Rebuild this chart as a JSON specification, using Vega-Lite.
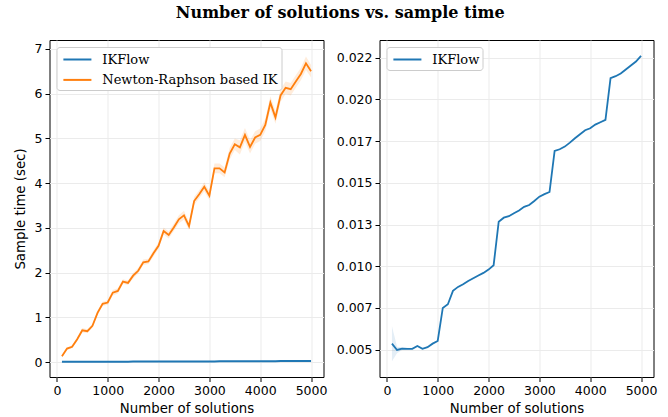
{
  "$schema": "https://vega.github.io/schema/vega-lite/v6.json",
  "padding": {"left": 12.5, "top": 4, "right": 0, "bottom": 0},
  "background": "white",
  "title": {"text": "Number of solutions vs. sample time", "font": "DejaVu Serif", "fontWeight": "bold", "fontSize": 16, "color": "black", "anchor": "middle", "frame": "bounds", "offset": 19, "dx": 5},
  "datasets": {
    "nr": [
      {"n": 100, "series": "Newton-Raphson based IK", "t": 0.13, "lo": 0.10, "hi": 0.16},
      {"n": 200, "series": "Newton-Raphson based IK", "t": 0.30, "lo": 0.27, "hi": 0.33},
      {"n": 300, "series": "Newton-Raphson based IK", "t": 0.34, "lo": 0.31, "hi": 0.37},
      {"n": 400, "series": "Newton-Raphson based IK", "t": 0.51, "lo": 0.47, "hi": 0.55},
      {"n": 500, "series": "Newton-Raphson based IK", "t": 0.71, "lo": 0.66, "hi": 0.76},
      {"n": 600, "series": "Newton-Raphson based IK", "t": 0.69, "lo": 0.65, "hi": 0.73},
      {"n": 700, "series": "Newton-Raphson based IK", "t": 0.81, "lo": 0.77, "hi": 0.85},
      {"n": 800, "series": "Newton-Raphson based IK", "t": 1.10, "lo": 1.05, "hi": 1.15},
      {"n": 900, "series": "Newton-Raphson based IK", "t": 1.30, "lo": 1.25, "hi": 1.35},
      {"n": 1000, "series": "Newton-Raphson based IK", "t": 1.33, "lo": 1.28, "hi": 1.38},
      {"n": 1100, "series": "Newton-Raphson based IK", "t": 1.55, "lo": 1.49, "hi": 1.61},
      {"n": 1200, "series": "Newton-Raphson based IK", "t": 1.59, "lo": 1.53, "hi": 1.65},
      {"n": 1300, "series": "Newton-Raphson based IK", "t": 1.80, "lo": 1.75, "hi": 1.85},
      {"n": 1400, "series": "Newton-Raphson based IK", "t": 1.77, "lo": 1.72, "hi": 1.82},
      {"n": 1500, "series": "Newton-Raphson based IK", "t": 1.93, "lo": 1.87, "hi": 1.99},
      {"n": 1600, "series": "Newton-Raphson based IK", "t": 2.04, "lo": 1.98, "hi": 2.10},
      {"n": 1700, "series": "Newton-Raphson based IK", "t": 2.23, "lo": 2.17, "hi": 2.29},
      {"n": 1800, "series": "Newton-Raphson based IK", "t": 2.25, "lo": 2.19, "hi": 2.31},
      {"n": 1900, "series": "Newton-Raphson based IK", "t": 2.43, "lo": 2.36, "hi": 2.50},
      {"n": 2000, "series": "Newton-Raphson based IK", "t": 2.60, "lo": 2.53, "hi": 2.67},
      {"n": 2100, "series": "Newton-Raphson based IK", "t": 2.93, "lo": 2.85, "hi": 3.01},
      {"n": 2200, "series": "Newton-Raphson based IK", "t": 2.84, "lo": 2.76, "hi": 2.92},
      {"n": 2300, "series": "Newton-Raphson based IK", "t": 3.01, "lo": 2.93, "hi": 3.09},
      {"n": 2400, "series": "Newton-Raphson based IK", "t": 3.19, "lo": 3.10, "hi": 3.28},
      {"n": 2500, "series": "Newton-Raphson based IK", "t": 3.28, "lo": 3.18, "hi": 3.38},
      {"n": 2600, "series": "Newton-Raphson based IK", "t": 3.04, "lo": 2.95, "hi": 3.13},
      {"n": 2700, "series": "Newton-Raphson based IK", "t": 3.60, "lo": 3.51, "hi": 3.69},
      {"n": 2800, "series": "Newton-Raphson based IK", "t": 3.75, "lo": 3.66, "hi": 3.84},
      {"n": 2900, "series": "Newton-Raphson based IK", "t": 3.92, "lo": 3.82, "hi": 4.02},
      {"n": 3000, "series": "Newton-Raphson based IK", "t": 3.72, "lo": 3.62, "hi": 3.82},
      {"n": 3100, "series": "Newton-Raphson based IK", "t": 4.33, "lo": 4.22, "hi": 4.44},
      {"n": 3200, "series": "Newton-Raphson based IK", "t": 4.33, "lo": 4.22, "hi": 4.44},
      {"n": 3300, "series": "Newton-Raphson based IK", "t": 4.24, "lo": 4.13, "hi": 4.35},
      {"n": 3400, "series": "Newton-Raphson based IK", "t": 4.66, "lo": 4.53, "hi": 4.79},
      {"n": 3500, "series": "Newton-Raphson based IK", "t": 4.87, "lo": 4.74, "hi": 5.00},
      {"n": 3600, "series": "Newton-Raphson based IK", "t": 4.80, "lo": 4.64, "hi": 4.96},
      {"n": 3700, "series": "Newton-Raphson based IK", "t": 5.08, "lo": 4.93, "hi": 5.23},
      {"n": 3800, "series": "Newton-Raphson based IK", "t": 4.81, "lo": 4.66, "hi": 4.96},
      {"n": 3900, "series": "Newton-Raphson based IK", "t": 5.02, "lo": 4.88, "hi": 5.16},
      {"n": 4000, "series": "Newton-Raphson based IK", "t": 5.08, "lo": 4.94, "hi": 5.22},
      {"n": 4100, "series": "Newton-Raphson based IK", "t": 5.30, "lo": 5.16, "hi": 5.44},
      {"n": 4200, "series": "Newton-Raphson based IK", "t": 5.80, "lo": 5.66, "hi": 5.94},
      {"n": 4300, "series": "Newton-Raphson based IK", "t": 5.47, "lo": 5.33, "hi": 5.61},
      {"n": 4400, "series": "Newton-Raphson based IK", "t": 5.96, "lo": 5.82, "hi": 6.10},
      {"n": 4500, "series": "Newton-Raphson based IK", "t": 6.13, "lo": 5.99, "hi": 6.27},
      {"n": 4600, "series": "Newton-Raphson based IK", "t": 6.10, "lo": 5.96, "hi": 6.24},
      {"n": 4700, "series": "Newton-Raphson based IK", "t": 6.27, "lo": 6.13, "hi": 6.41},
      {"n": 4800, "series": "Newton-Raphson based IK", "t": 6.44, "lo": 6.30, "hi": 6.58},
      {"n": 4900, "series": "Newton-Raphson based IK", "t": 6.68, "lo": 6.53, "hi": 6.83},
      {"n": 5000, "series": "Newton-Raphson based IK", "t": 6.50, "lo": 6.36, "hi": 6.64}
    ],
    "ik": [
      {"n": 100, "series": "IKFlow", "t": 0.00536, "lo": 0.0043, "hi": 0.0064},
      {"n": 200, "series": "IKFlow", "t": 0.00498, "lo": 0.00478, "hi": 0.00518},
      {"n": 300, "series": "IKFlow", "t": 0.00506, "lo": 0.00498, "hi": 0.00514},
      {"n": 400, "series": "IKFlow", "t": 0.00505, "lo": 0.00499, "hi": 0.00511},
      {"n": 500, "series": "IKFlow", "t": 0.00505, "lo": 0.00500, "hi": 0.00510},
      {"n": 600, "series": "IKFlow", "t": 0.00522, "lo": 0.00517, "hi": 0.00527},
      {"n": 700, "series": "IKFlow", "t": 0.00505, "lo": 0.00500, "hi": 0.00510},
      {"n": 800, "series": "IKFlow", "t": 0.00515, "lo": 0.00511, "hi": 0.00519},
      {"n": 900, "series": "IKFlow", "t": 0.00536, "lo": 0.00532, "hi": 0.00540},
      {"n": 1000, "series": "IKFlow", "t": 0.00552, "lo": 0.00548, "hi": 0.00556},
      {"n": 1100, "series": "IKFlow", "t": 0.0075, "lo": 0.00746, "hi": 0.00754},
      {"n": 1200, "series": "IKFlow", "t": 0.00772, "lo": 0.00768, "hi": 0.00776},
      {"n": 1300, "series": "IKFlow", "t": 0.00852, "lo": 0.00848, "hi": 0.00856},
      {"n": 1400, "series": "IKFlow", "t": 0.00876, "lo": 0.00872, "hi": 0.00880},
      {"n": 1500, "series": "IKFlow", "t": 0.00892, "lo": 0.00888, "hi": 0.00896},
      {"n": 1600, "series": "IKFlow", "t": 0.00912, "lo": 0.00908, "hi": 0.00916},
      {"n": 1700, "series": "IKFlow", "t": 0.00928, "lo": 0.00924, "hi": 0.00932},
      {"n": 1800, "series": "IKFlow", "t": 0.00944, "lo": 0.00940, "hi": 0.00948},
      {"n": 1900, "series": "IKFlow", "t": 0.0096, "lo": 0.00956, "hi": 0.00964},
      {"n": 2000, "series": "IKFlow", "t": 0.0098, "lo": 0.00976, "hi": 0.00984},
      {"n": 2100, "series": "IKFlow", "t": 0.01006, "lo": 0.01002, "hi": 0.01010},
      {"n": 2200, "series": "IKFlow", "t": 0.01267, "lo": 0.01263, "hi": 0.01271},
      {"n": 2300, "series": "IKFlow", "t": 0.01291, "lo": 0.01287, "hi": 0.01295},
      {"n": 2400, "series": "IKFlow", "t": 0.0130, "lo": 0.01296, "hi": 0.01304},
      {"n": 2500, "series": "IKFlow", "t": 0.01318, "lo": 0.01314, "hi": 0.01322},
      {"n": 2600, "series": "IKFlow", "t": 0.01334, "lo": 0.01330, "hi": 0.01338},
      {"n": 2700, "series": "IKFlow", "t": 0.01356, "lo": 0.01352, "hi": 0.01360},
      {"n": 2800, "series": "IKFlow", "t": 0.01367, "lo": 0.01363, "hi": 0.01371},
      {"n": 2900, "series": "IKFlow", "t": 0.01391, "lo": 0.01387, "hi": 0.01395},
      {"n": 3000, "series": "IKFlow", "t": 0.01417, "lo": 0.01413, "hi": 0.01421},
      {"n": 3100, "series": "IKFlow", "t": 0.01432, "lo": 0.01428, "hi": 0.01436},
      {"n": 3200, "series": "IKFlow", "t": 0.01445, "lo": 0.01441, "hi": 0.01449},
      {"n": 3300, "series": "IKFlow", "t": 0.01691, "lo": 0.01687, "hi": 0.01695},
      {"n": 3400, "series": "IKFlow", "t": 0.01701, "lo": 0.01697, "hi": 0.01705},
      {"n": 3500, "series": "IKFlow", "t": 0.01717, "lo": 0.01713, "hi": 0.01721},
      {"n": 3600, "series": "IKFlow", "t": 0.01741, "lo": 0.01737, "hi": 0.01745},
      {"n": 3700, "series": "IKFlow", "t": 0.01767, "lo": 0.01763, "hi": 0.01771},
      {"n": 3800, "series": "IKFlow", "t": 0.01791, "lo": 0.01787, "hi": 0.01795},
      {"n": 3900, "series": "IKFlow", "t": 0.01815, "lo": 0.01811, "hi": 0.01819},
      {"n": 4000, "series": "IKFlow", "t": 0.01827, "lo": 0.01823, "hi": 0.01831},
      {"n": 4100, "series": "IKFlow", "t": 0.01849, "lo": 0.01845, "hi": 0.01853},
      {"n": 4200, "series": "IKFlow", "t": 0.01863, "lo": 0.01859, "hi": 0.01867},
      {"n": 4300, "series": "IKFlow", "t": 0.01877, "lo": 0.01873, "hi": 0.01881},
      {"n": 4400, "series": "IKFlow", "t": 0.02127, "lo": 0.02123, "hi": 0.02131},
      {"n": 4500, "series": "IKFlow", "t": 0.02139, "lo": 0.02135, "hi": 0.02143},
      {"n": 4600, "series": "IKFlow", "t": 0.02155, "lo": 0.02151, "hi": 0.02159},
      {"n": 4700, "series": "IKFlow", "t": 0.02179, "lo": 0.02175, "hi": 0.02183},
      {"n": 4800, "series": "IKFlow", "t": 0.02203, "lo": 0.02199, "hi": 0.02207},
      {"n": 4900, "series": "IKFlow", "t": 0.02227, "lo": 0.02223, "hi": 0.02231},
      {"n": 5000, "series": "IKFlow", "t": 0.02261, "lo": 0.02257, "hi": 0.02265}
    ]
  },
  "config": {
    "view": {"stroke": "black", "strokeWidth": 1},
    "axis": {
      "domain": false, "tickColor": "black", "tickSize": 4.5, "tickWidth": 1,
      "labelFont": "DejaVu Sans", "labelFontSize": 12.5, "labelColor": "black",
      "titleFont": "DejaVu Sans", "titleFontSize": 13.3, "titleFontWeight": "normal", "titleColor": "black",
      "gridColor": "#ebebeb", "gridWidth": 1, "labelPadding": 3
    },
    "axisY": {"titlePadding": 6.5},
    "legend": {
      "orient": "top-left", "offset": 6.5, "symbolType": "M-1.687,0H1.687", "symbolSize": 276, "symbolStrokeWidth": 2, "symbolOffset": 8.4,
      "labelFont": "DejaVu Serif", "labelFontSize": 13, "labelColor": "black", "labelOffset": 15.4, "labelLimit": 400,
      "strokeColor": "#cccccc", "fillColor": "white", "cornerRadius": 3, "padding": 3, "rowPadding": 3.4, "title": null
    }
  },
  "spacing": 8,
  "resolve": {"scale": {"color": "independent", "y": "independent"}, "legend": {"color": "independent"}},
  "hconcat": [
    {
      "width": 274, "height": 337,
      "layer": [
        {
          "data": {"name": "nr"},
          "mark": {"type": "area", "opacity": 0.15, "color": "#ff7f0e"},
          "encoding": {
            "x": {"field": "n", "type": "quantitative"},
            "y": {"field": "lo", "type": "quantitative"},
            "y2": {"field": "hi"}
          }
        },
        {
          "data": {"name": "ik"},
          "mark": {"type": "line", "strokeWidth": 2},
          "encoding": {
            "x": {"field": "n", "type": "quantitative"},
            "y": {"field": "t", "type": "quantitative"},
            "color": {"field": "series", "type": "nominal", "scale": {"domain": ["IKFlow", "Newton-Raphson based IK"], "range": ["#1f77b4", "#ff7f0e"]}}
          }
        },
        {
          "data": {"name": "nr"},
          "mark": {"type": "line", "strokeWidth": 1.8},
          "encoding": {
            "x": {"field": "n", "type": "quantitative", "scale": {"domain": [-145, 5245], "nice": false, "zero": false}, "axis": {"values": [0, 1000, 2000, 3000, 4000, 5000], "format": "d", "title": "Number of solutions", "grid": true}},
            "y": {"field": "t", "type": "quantitative", "scale": {"domain": [-0.335, 7.2], "nice": false, "zero": false}, "axis": {"values": [0, 1, 2, 3, 4, 5, 6, 7], "title": "Sample time (sec)", "grid": true}},
            "color": {"field": "series", "type": "nominal", "scale": {"domain": ["IKFlow", "Newton-Raphson based IK"], "range": ["#1f77b4", "#ff7f0e"]}}
          }
        }
      ]
    },
    {
      "width": 274, "height": 337,
      "data": {"name": "ik"},
      "layer": [
        {
          "mark": {"type": "area", "opacity": 0.12, "color": "#1f77b4"},
          "encoding": {
            "x": {"field": "n", "type": "quantitative"},
            "y": {"field": "lo", "type": "quantitative"},
            "y2": {"field": "hi"}
          }
        },
        {
          "mark": {"type": "line", "strokeWidth": 1.8},
          "encoding": {
            "x": {"field": "n", "type": "quantitative", "scale": {"domain": [-145, 5245], "nice": false, "zero": false}, "axis": {"values": [0, 1000, 2000, 3000, 4000, 5000], "format": "d", "title": "Number of solutions", "grid": true}},
            "y": {"field": "t", "type": "quantitative", "scale": {"domain": [0.00336, 0.02356], "nice": false, "zero": false}, "axis": {"values": [0.005, 0.0074999, 0.01, 0.0125001, 0.015, 0.0174999, 0.02, 0.0224999], "format": ".3f", "title": null, "grid": true}},
            "color": {"field": "series", "type": "nominal", "scale": {"domain": ["IKFlow"], "range": ["#1f77b4"]}}
          }
        }
      ]
    }
  ]
}
